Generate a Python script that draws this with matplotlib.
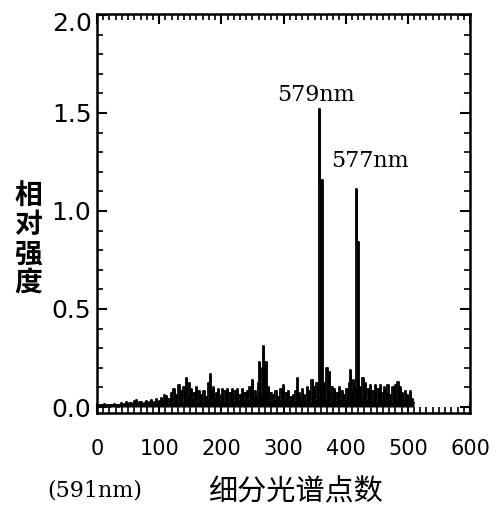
import numpy as np
import matplotlib
matplotlib.use("Agg")
import matplotlib.pyplot as plt
from matplotlib.ticker import MultipleLocator

plt.rcParams['font.family'] = ['DejaVu Sans', 'Noto Sans CJK SC']

# spectral intensity, one value every 2 points (x = 0, 2, ..., 510)
intensity = [
    0.01, 0.0, 0.012, 0.003, 0.008, 0.0, 0.015, 0.004, 0.01, 0.002,
    0.012, 0.0, 0.008, 0.003, 0.014, 0.005, 0.01, 0.002, 0.012, 0.004,
    0.02, 0.005, 0.015, 0.008, 0.025, 0.01, 0.018, 0.006, 0.022, 0.01,
    0.03, 0.012, 0.035, 0.015, 0.028,
    0.01, 0.025, 0.008, 0.02, 0.012, 0.03, 0.01, 0.025, 0.015, 0.035,
    0.012, 0.028, 0.018, 0.04, 0.015,
    0.03, 0.02, 0.045, 0.025, 0.06, 0.03, 0.055, 0.02, 0.04, 0.025,
    0.07, 0.03, 0.09, 0.04, 0.06, 0.025, 0.11, 0.045, 0.08, 0.03,
    0.1, 0.04, 0.15, 0.06, 0.12, 0.03, 0.09, 0.05, 0.07, 0.035,
    0.1, 0.03, 0.08, 0.04, 0.06, 0.03, 0.08, 0.035, 0.05, 0.045,
    0.12, 0.17, 0.08, 0.03, 0.1, 0.04, 0.07, 0.025, 0.09, 0.035,
    0.06, 0.09, 0.03, 0.08, 0.04, 0.09, 0.025, 0.07, 0.045, 0.09,
    0.035, 0.08, 0.03, 0.09, 0.04, 0.06, 0.03, 0.09, 0.045, 0.07,
    0.03, 0.08, 0.04, 0.1, 0.035, 0.14, 0.06, 0.08, 0.03, 0.05,
    0.12, 0.23, 0.05, 0.2, 0.31, 0.22, 0.23, 0.08, 0.1, 0.035,
    0.07, 0.03, 0.06, 0.04, 0.08, 0.025, 0.05, 0.04, 0.09, 0.035,
    0.11, 0.045, 0.07, 0.03, 0.08, 0.04, 0.05, 0.025, 0.06, 0.035,
    0.08, 0.15, 0.04, 0.07, 0.03, 0.09, 0.045, 0.06, 0.035, 0.1,
    0.05, 0.08, 0.03, 0.14, 0.06, 0.1, 0.04, 0.12, 0.06, 1.52,
    1.16, 1.16, 0.05, 0.12, 0.04, 0.2, 0.08, 0.18, 0.03, 0.1,
    0.05, 0.09, 0.035, 0.07, 0.04, 0.1, 0.045, 0.08, 0.03, 0.06,
    0.04, 0.09, 0.035, 0.12, 0.19, 0.08, 0.14, 0.04, 0.1, 1.11,
    0.84, 0.06, 0.1, 0.035, 0.15, 0.07, 0.12, 0.04, 0.09, 0.05,
    0.11, 0.035, 0.08, 0.045, 0.11, 0.03, 0.09, 0.05, 0.11, 0.04,
    0.07, 0.1, 0.035, 0.08, 0.11, 0.045, 0.06, 0.03, 0.1, 0.04,
    0.11, 0.05, 0.13, 0.035, 0.1, 0.045, 0.07, 0.03, 0.08, 0.04,
    0.06, 0.03, 0.08, 0.025, 0.04, 0.02,
]
points = np.arange(0, 2 * len(intensity), 2)

x_ticks = [0, 100, 200, 300, 400, 500, 600]
x_ticklabels = ['0', '100', '200', '300', '400', '500', '600']
y_ticks = [0.0, 0.5, 1.0, 1.5, 2.0]
y_ticklabels = ['0.0', '0.5', '1.0', '1.5', '']
peak_labels = ['579nm', '577nm']
peak_label_pos = [(352, 1.59), (439, 1.255)]

fig = plt.figure(figsize=(5.01, 5.13), dpi=100)
ax = fig.add_axes([97 / 501, 1 - 413 / 513, (470 - 97) / 501, (413 - 14) / 513])

ax.fill_between(points, intensity, 0, step='mid', color='black', linewidth=0)
ax.step(points, intensity, where='mid', color='black', linewidth=1.3)

ax.set_xlim(0, 600)
ax.set_ylim(-0.0306, 2.005)

ax.set_xticks(x_ticks)
ax.set_xticklabels(x_ticklabels, fontsize=15)
ax.set_yticks(y_ticks)
ax.set_yticklabels(y_ticklabels, fontsize=18)
ax.xaxis.set_minor_locator(MultipleLocator(10))
ax.yaxis.set_minor_locator(MultipleLocator(0.1))

ax.tick_params(axis='both', which='major', direction='in', length=7, width=1.5,
               top=True, right=True, color='black')
ax.tick_params(axis='both', which='minor', direction='in', length=4, width=1.2,
               top=True, right=True)
ax.tick_params(axis='x', which='major', pad=19)
ax.tick_params(axis='y', which='major', pad=4)

for s in ax.spines.values():
    s.set_linewidth(1.8)

# the top tick label sits slightly below the axis top in the reference
fig.text(92 / 501, 1 - 24 / 513, '2.0', fontsize=18, ha='right', va='center')

for lab, (px, py) in zip(peak_labels, peak_label_pos):
    ax.text(px, py, lab, fontsize=16, family='DejaVu Serif', ha='center', va='center')

fig.text(95 / 501, 1 - 490 / 513, '(591nm)', fontsize=16, family='DejaVu Serif',
         ha='center', va='center')
fig.text(295 / 501, 1 - 492 / 513, '细分光谱点数', fontsize=21,
         family=['Noto Sans CJK SC', 'DejaVu Sans'], ha='center', va='center')
fig.text(28 / 501, 1 - 240 / 513, '相\n对\n强\n度', fontsize=20, weight='bold',
         family=['Noto Sans CJK SC', 'DejaVu Sans'], ha='center', va='center',
         linespacing=1.05)

fig.savefig('out.png', dpi=100)
